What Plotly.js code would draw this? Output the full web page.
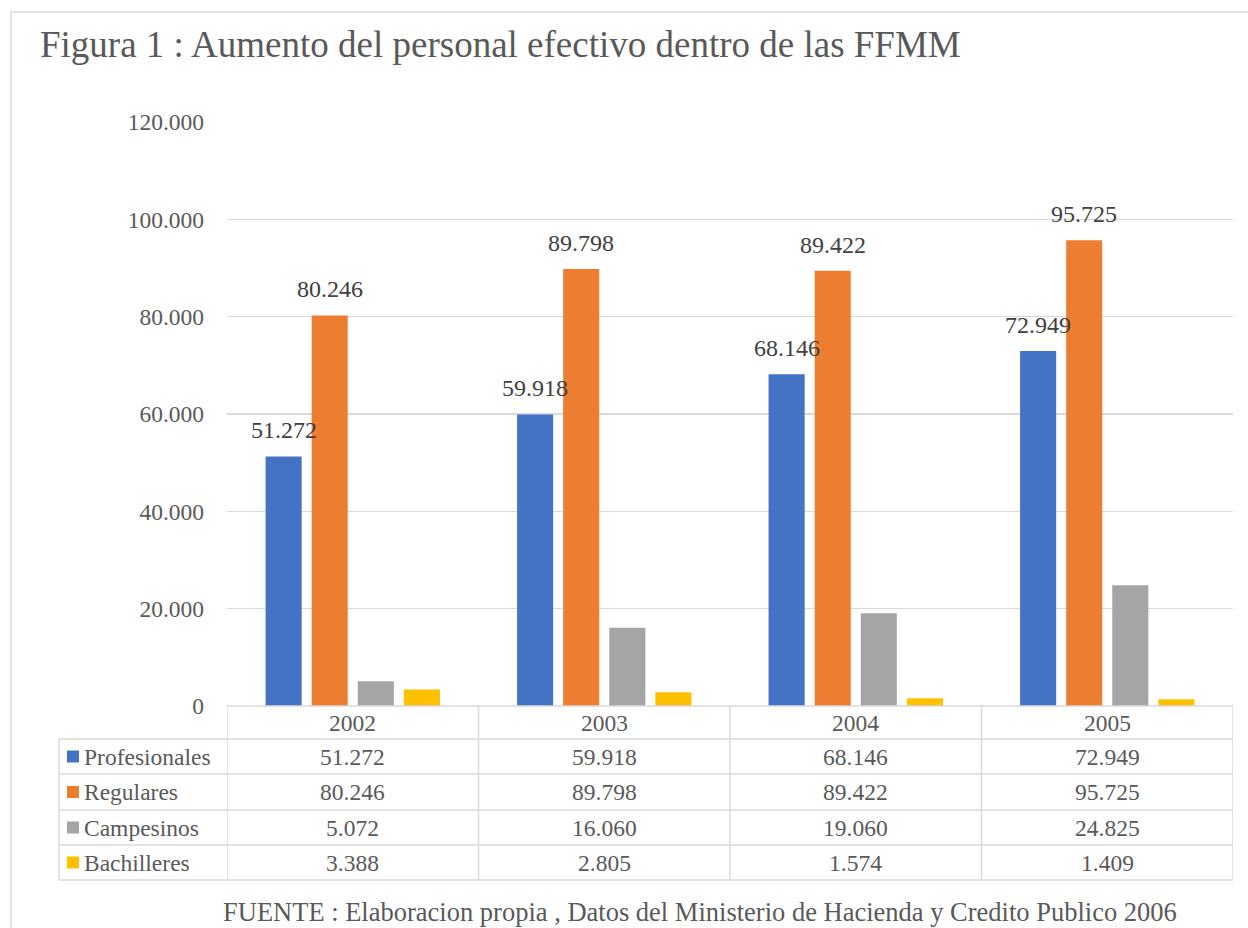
<!DOCTYPE html>
<html>
<head>
<meta charset="utf-8">
<script src="https://cdn.plot.ly/plotly-3.0.1.min.js"></script>
<style>html,body{margin:0;padding:0;background:#fff;}#chart{width:1248px;height:928px;}</style>
</head>
<body>
<div id="chart"></div>
<script>
// ---- data ----
const years = ["2002", "2003", "2004", "2005"];
const seriesNames = ["Profesionales", "Regulares", "Campesinos", "Bachilleres"];
const profesionales = [51272, 59918, 68146, 72949];
const regulares = [80246, 89798, 89422, 95725];
const campesinos = [5072, 16060, 19060, 24825];
const bachilleres = [3388, 2805, 1574, 1409];
const seriesValues = [profesionales, regulares, campesinos, bachilleres];
const showLabels = [true, true, false, false];
const colors = ["#4472C4", "#ED7D31", "#A5A5A5", "#FFC000"];
const titleText = "Figura 1 : Aumento del personal efectivo dentro de las FFMM";
const sourceText = "FUENTE : Elaboracion propia , Datos del Ministerio de Hacienda y Credito Publico 2006";

// ---- geometry helpers (pixel -> paper) ----
const W = 1248, H = 928;
const L = 227, R = 1233, T = 122, B = 706;
const xp = px => (px - L) / (R - L);
const yp = py => (B - py) / (B - T);

const FONT = "'Liberation Serif', 'Times New Roman', serif";
const TXT = "#595959";
const LINE = "#d9d9d9";
const BARGAP = 0.267, BARGROUPGAP = 0.217;

function fmt(v) {
  return v.toString().replace(/\B(?=(\d{3})+(?!\d))/g, ".");
}

const traces = seriesNames.map((name, i) => ({
  type: "bar",
  name: name,
  x: years,
  y: seriesValues[i],
  marker: { color: colors[i], line: { width: 0 } },
  hoverinfo: "none"
}));

const shapes = [];
const annotations = [];

// ---- data labels (drawn above all bars) ----
const catPx = (R - L) / years.length;
const slotPx = catPx * (1 - BARGAP) / seriesNames.length;
seriesNames.forEach((name, i) => {
  if (!showLabels[i]) return;
  const off = (i - (seriesNames.length - 1) / 2) * slotPx;
  seriesValues[i].forEach((v, c) => {
    annotations.push({ xref: "x", yref: "y", x: c, y: v, xshift: off, yshift: 11,
      text: fmt(v), showarrow: false, xanchor: "center", yanchor: "bottom",
      font: { family: FONT, size: 24, color: "#404040" } });
  });
});

// ---- data table below the plot ----
const rowEdges = [706, 739, 774, 810, 845, 880];
const tableLeft = 59;

// outer frame of the chart
shapes.push({ type: "rect", xref: "paper", yref: "paper",
  x0: xp(11), x1: xp(1262), y0: yp(12), y1: yp(940),
  line: { color: LINE, width: 1.5 }, fillcolor: "rgba(0,0,0,0)", layer: "below" });

shapes.push({ type: "line", xref: "paper", yref: "paper",
  x0: 0, x1: 1, y0: yp(rowEdges[0]), y1: yp(rowEdges[0]), line: { color: LINE, width: 1.5 } });
for (let r = 1; r < rowEdges.length; r++) {
  shapes.push({ type: "line", xref: "paper", yref: "paper",
    x0: xp(tableLeft), x1: 1, y0: yp(rowEdges[r]), y1: yp(rowEdges[r]), line: { color: LINE, width: 1.5 } });
}
shapes.push({ type: "line", xref: "paper", yref: "paper",
  x0: xp(tableLeft), x1: xp(tableLeft), y0: yp(rowEdges[1]), y1: yp(rowEdges[5]), line: { color: LINE, width: 1.5 } });
for (let c = 0; c <= years.length; c++) {
  shapes.push({ type: "line", xref: "x", yref: "paper",
    x0: c - 0.5, x1: c - 0.5, y0: yp(rowEdges[0]), y1: yp(rowEdges[5]), line: { color: LINE, width: 1.5 } });
}
years.forEach((yr, c) => {
  annotations.push({ xref: "x", yref: "paper", x: c, y: yp((rowEdges[0] + rowEdges[1]) / 2),
    text: yr, showarrow: false, xanchor: "center", yanchor: "middle",
    font: { family: FONT, size: 23.5, color: TXT } });
});
seriesNames.forEach((name, r) => {
  const yc = (rowEdges[r + 1] + rowEdges[r + 2]) / 2;
  shapes.push({ type: "rect", xref: "paper", yref: "paper",
    x0: xp(67), x1: xp(79), y0: yp(yc - 6), y1: yp(yc + 6),
    fillcolor: colors[r], line: { width: 0 } });
  annotations.push({ xref: "paper", yref: "paper", x: xp(82), y: yp(yc),
    text: name, showarrow: false, xanchor: "left", yanchor: "middle",
    font: { family: FONT, size: 23.5, color: TXT } });
  seriesValues[r].forEach((v, c) => {
    annotations.push({ xref: "x", yref: "paper", x: c, y: yp(yc),
      text: fmt(v), showarrow: false, xanchor: "center", yanchor: "middle",
      font: { family: FONT, size: 23.5, color: TXT } });
  });
});
// source note
annotations.push({ xref: "paper", yref: "paper", x: xp(700), y: yp(912),
  text: sourceText, showarrow: false, xanchor: "center", yanchor: "middle",
  font: { family: FONT, size: 26.5, color: TXT } });

const layout = {
  width: W, height: H,
  margin: { l: L, r: W - R, t: T, b: H - B, pad: 0 },
  paper_bgcolor: "#ffffff", plot_bgcolor: "#ffffff",
  separators: ",.",
  showlegend: false,
  barmode: "group",
  bargap: BARGAP,
  bargroupgap: BARGROUPGAP,
  title: { text: titleText, x: 40 / W, xanchor: "left", xref: "container",
    y: 1 - 44 / H, yanchor: "middle", yref: "container",
    font: { family: FONT, size: 37, color: TXT } },
  xaxis: { type: "category", range: [-0.5, years.length - 0.5], showticklabels: false,
    showgrid: false, zeroline: false, showline: false, ticks: "" },
  yaxis: { range: [0, 120000], dtick: 20000, tick0: 0, tickformat: ",d",
    showgrid: true, gridcolor: LINE, gridwidth: 1.5, zeroline: false, showline: false,
    ticks: "", ticklabelstandoff: 22,
    tickfont: { family: FONT, size: 23.5, color: TXT } },
  shapes: shapes,
  annotations: annotations
};

Plotly.newPlot("chart", traces, layout, { displayModeBar: false, staticPlot: true });
</script>
</body>
</html>
